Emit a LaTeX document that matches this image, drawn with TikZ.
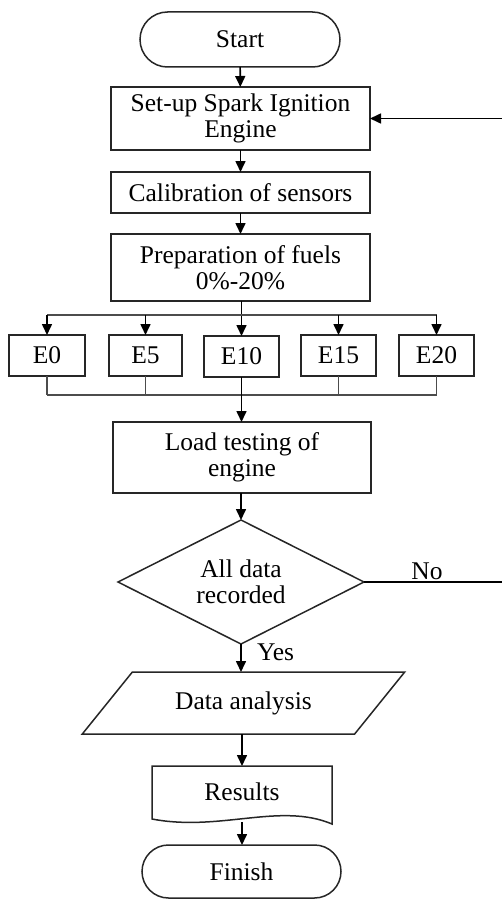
\documentclass[tikz,border=0pt]{standalone}
\usepackage{fontspec}
\setmainfont{Liberation Serif}
\usetikzlibrary{arrows.meta,shapes.misc,shapes.geometric}
\begin{document}
\begin{tikzpicture}[x=1pt,y=-1pt,
  every node/.style={font=\fontsize{25.5}{26}\selectfont, align=center, inner sep=0pt, outer sep=0pt},
  box/.style={draw=black!85, line width=1.5pt, rectangle},
  term/.style={draw=black!85, line width=1.5pt, rounded rectangle, minimum width=200pt, minimum height=55pt},
  ebox/.style={box, minimum width=75pt, minimum height=41pt},
  arr/.style={draw=black, line width=1.6pt, -{Triangle[length=11pt,width=10pt]}},
  ln/.style={draw=black!70, line width=1.5pt}]
\useasboundingbox (0,0) rectangle (501,899);

\node[term] (start) at (240,39.5) {Start};
\node[box, minimum width=259pt, minimum height=63pt] (setup) at (240.5,118.5) {Set-up Spark Ignition\\Engine};
\node[box, minimum width=259pt, minimum height=41pt] (calib) at (240.5,192.5) {Calibration of sensors};
\node[box, minimum width=259pt, minimum height=67pt] (prep) at (240.5,267.5) {Preparation of fuels\\0\%-20\%};

\node[ebox, minimum width=76pt] (e0) at (47,355.5) {E0};
\node[ebox, minimum width=73pt] (e5) at (145.5,355.5) {E5};
\node[ebox] (e10) at (241.5,356.5) {E10};
\node[ebox] (e15) at (338.5,355.5) {E15};
\node[ebox] (e20) at (436.5,355.5) {E20};

\node[box, minimum width=258pt, minimum height=71pt] (load) at (242,457.5) {Load testing of\\engine};
\node[draw=black!85, line width=1.5pt, diamond, aspect=2, minimum width=246pt, minimum height=124pt] (dec) at (241,582) {All data\\recorded};
\node[draw=black!85, line width=1.5pt, trapezium, trapezium left angle=37, trapezium right angle=143, trapezium stretches=true, minimum width=323pt, minimum height=62pt] (data) at (243.5,703) {Data analysis};
\node[minimum width=180pt, minimum height=52pt] (res) at (242,792) {Results};
\draw[draw=black!85, line width=1.5pt] (res.north west) -- (res.north east) -- ([yshift=-6pt]res.south east)
  .. controls (280,802) and (220,832) .. ([yshift=-1pt]res.south west) -- cycle;
\node[term, minimum width=199pt, minimum height=53pt] (finish) at (241.5,871.5) {Finish};

\coordinate (bus1) at (241,315);
\coordinate (bus2) at (241,395);
\coordinate (fbr) at (504,0);

\draw[arr] (start) -- (setup);
\draw[arr] (setup) -- (calib);
\draw[arr] (calib) -- (prep);
\draw[arr] (prep.south -| e10.north) -- (e10.north);
\draw[ln] (bus1 -| e0.north) -- (bus1 -| e20.north);
\foreach \e in {e0,e5,e15,e20} \draw[arr] (bus1 -| \e.north) -- (\e.north);
\foreach \e in {e0,e5,e15,e20} \draw[ln] (\e.south) -- (bus2 -| \e.south);
\draw[ln] (bus2 -| e0.south) -- (bus2 -| e20.south);
\draw[arr] (e10.south) -- (load.north -| e10.south);
\draw[arr] (load.south -| dec.north) -- (dec.north);
\draw[arr] (dec.south) -- (data.north -| dec.south) node[pos=0.3, right=16pt] {Yes};
\draw[arr] (data.south -| res.north) -- (res.north);
\draw[arr] ([yshift=-4pt]res.south) -- (finish.north -| res.south);
\draw[arr] (dec.east) -- node[pos=0.45, above=2pt] {No} (dec.east -| fbr) |- (setup.east);
\end{tikzpicture}
\end{document}
